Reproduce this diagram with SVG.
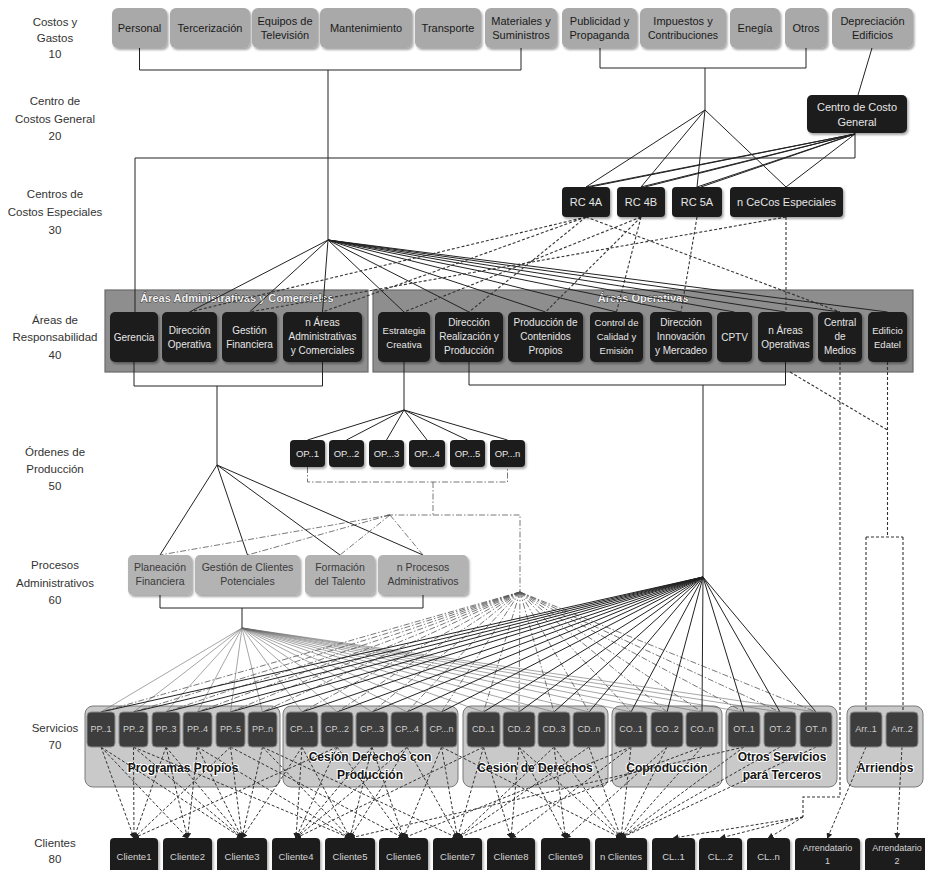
<svg xmlns="http://www.w3.org/2000/svg" width="925" height="870" viewBox="0 0 925 870">
<defs>
<filter id="sh" x="-15%" y="-15%" width="140%" height="150%"><feDropShadow dx="1.5" dy="2" stdDeviation="1.2" flood-color="#000" flood-opacity="0.35"/></filter>
<marker id="ah" markerUnits="userSpaceOnUse" markerWidth="6" markerHeight="6" refX="5" refY="3" orient="auto"><path d="M0,0 L6,3 L0,6 z" fill="#222"/></marker>
<style>
text{font-family:"Liberation Sans",Arial,sans-serif;text-anchor:middle}
.lbl{font-size:11.5px;fill:#333}
.tg rect{fill:#a9a9a9;filter:url(#sh)}
.tg text{font-size:11px;fill:#1a1a1a}
.bk rect{fill:#1c1c1c;filter:url(#sh)}
.bk text{font-size:10px;fill:#e6e6e6}
.pr rect{fill:#b3b3b3;filter:url(#sh)}
.pr text{font-size:10.5px;fill:#3a3a3a}
.sv rect{fill:#3d3d3d;stroke:#8a8a8a;stroke-width:1}
.sv text{font-size:9px;fill:#d0d0d0}
.cl rect{fill:#1e1e1e;filter:url(#sh)}
.cl text{font-size:9.5px;fill:#d4d4d4}
.panel{fill:#8e8e8e;stroke:#6a6a6a;stroke-width:1.2}
.ptitle{font-size:11px;font-weight:bold;fill:#f2f2f2;stroke:#333;stroke-width:0.8;paint-order:stroke}
.gpanel{fill:#c9c9c9;stroke:#7a7a7a;stroke-width:1}
.gtitle{font-size:12px;font-weight:bold;fill:#111;stroke:#fff;stroke-width:2.2;paint-order:stroke}
.s{fill:none;stroke:#222;stroke-width:1}
.t{fill:none;stroke:#6a6a6a;stroke-width:0.6}
.d{fill:none;stroke:#333;stroke-width:1.1;stroke-dasharray:3 2}
.dd{fill:none;stroke:#555;stroke-width:0.8;stroke-dasharray:6 2 1.5 2}
.dc{fill:none;stroke:#333;stroke-width:1;stroke-dasharray:3 2}
</style>
</defs>
<rect width="925" height="870" fill="#fff"/>

<g id="levels">
<text class="lbl" x="55" y="26">Costos y</text><text class="lbl" x="55" y="42">Gastos</text><text class="lbl" x="55" y="58">10</text>
<text class="lbl" x="55" y="105">Centro de</text><text class="lbl" x="55" y="123">Costos General</text><text class="lbl" x="55" y="140">20</text>
<text class="lbl" x="55" y="198">Centros de</text><text class="lbl" x="55" y="216">Costos Especiales</text><text class="lbl" x="55" y="234">30</text>
<text class="lbl" x="55" y="324">Áreas de</text><text class="lbl" x="55" y="341">Responsabilidad</text><text class="lbl" x="55" y="359">40</text>
<text class="lbl" x="55" y="456">Órdenes de</text><text class="lbl" x="55" y="473">Producción</text><text class="lbl" x="55" y="490">50</text>
<text class="lbl" x="55" y="569">Procesos</text><text class="lbl" x="55" y="587">Administrativos</text><text class="lbl" x="55" y="604">60</text>
<text class="lbl" x="55" y="732">Servicios</text><text class="lbl" x="55" y="749">70</text>
<text class="lbl" x="55" y="847">Clientes</text><text class="lbl" x="55" y="863">80</text>
</g>

<g id="panel-adm"><rect class="panel" x="105" y="290" width="263" height="82"/><text class="ptitle" x="237" y="302">Áreas Administrativas y Comerciales</text></g>
<g id="panel-op"><rect class="panel" x="373" y="290" width="540" height="82"/><text class="ptitle" x="643" y="302">Áreas Operativas</text></g>
<g id="grp-pp"><rect class="gpanel" x="85" y="706" width="195" height="81" rx="8"/><text class="gtitle" x="183" y="772">Programas Propios</text></g>
<g id="grp-cp"><rect class="gpanel" x="283" y="706" width="175" height="81" rx="8"/><text class="gtitle" x="370" y="761">Cesión Derechos con</text><text class="gtitle" x="370" y="779">Producción</text></g>
<g id="grp-cd"><rect class="gpanel" x="463" y="706" width="145" height="81" rx="8"/><text class="gtitle" x="535" y="772">Cesión de Derechos</text></g>
<g id="grp-co"><rect class="gpanel" x="612" y="706" width="110" height="81" rx="8"/><text class="gtitle" x="667" y="772">Coproducción</text></g>
<g id="grp-ot"><rect class="gpanel" x="726" y="706" width="111" height="81" rx="8"/><text class="gtitle" x="782" y="761">Otros Servicios</text><text class="gtitle" x="782" y="779">para Terceros</text></g>
<g id="grp-arr"><rect class="gpanel" x="847" y="706" width="76" height="81" rx="8"/><text class="gtitle" x="885" y="772">Arriendos</text></g>

<g id="connectors">
<path class="s" d="M139.5,48V70H521V48M328,70V240"/>
<path class="s" d="M600,48V68H806V48M705,68V110"/>
<path class="s" d="M872,48L858,95"/>
<path class="s" d="M855,133V158H135V312"/>
<path class="s" d="M705,110L586,187M705,110L641,187M705,110L697,187M705,110L786,187"/>
<path class="s" d="M855,134L586,187M855,134L590,187M855,134L641,187M855,134L645,187M855,134L697,187M855,134L701,187M855,134L786,187"/>
<path class="s" d="M328,240L189.5,312M328,240L249.5,312M328,240L322.5,312M328,240L404,312M328,240L469,312M328,240L545.5,312M328,240L616.5,312M328,240L681,312M328,240L734.5,312M328,240L785.5,312M328,240L840,312M328,240L887.5,312"/>
<path class="d" d="M586,217L189.5,312M586,217L322.5,312M641,217L404,312M786,217L249.5,312M586,217L469,312M641,217L545.5,312M641,217L616.5,312M697,217L681,312M586,217L840,312M786,217V312"/>
<path class="s" d="M134,362V386H322.5V362M217,386V465"/>
<path class="s" d="M404,362V410"/>
<path class="s" d="M469,362V385H785.5V362M703,385V577"/>
<path class="s" d="M217,465L160,555M217,465L247.5,555M217,465L340,555M217,465L423,555"/>
<path class="s" d="M404,410L307.5,440M404,410L346.5,440M404,410L386.5,440M404,410L427,440M404,410L467.5,440M404,410L507.5,440"/>
<path class="dd" d="M307.5,467V482H507.5V467M433,482V515M387,515H520V592"/>
<path class="dd" d="M390,515L160,555M390,515L247.5,555M390,515L340,555M390,515L423,555"/>
<path class="s" d="M160,595V608H423V595M242,608V628"/>
<path class="t" d="M242,628L101,712M242,628L133.5,712M242,628L166,712M242,628L197.5,712M242,628L230.5,712M242,628L262.5,712M242,628L302,712M242,628L337,712M242,628L372,712M242,628L407,712M242,628L441.5,712M242,628L483.5,712M242,628L519,712M242,628L554,712M242,628L589,712M242,628L631,712M242,628L667,712M242,628L702,712M242,628L744,712M242,628L780,712M242,628L816,712"/>
<path class="dd" d="M520,592L101,712M520,592L133.5,712M520,592L166,712M520,592L197.5,712M520,592L230.5,712M520,592L262.5,712M520,592L302,712M520,592L337,712M520,592L372,712M520,592L407,712M520,592L441.5,712M520,592L483.5,712M520,592L519,712M520,592L554,712M520,592L589,712M520,592L631,712M520,592L667,712M520,592L702,712M520,592L744,712M520,592L780,712M520,592L816,712"/>
<path class="s" d="M703,577L101,712M703,577L133.5,712M703,577L166,712M703,577L197.5,712M703,577L230.5,712M703,577L262.5,712M703,577L302,712M703,577L337,712M703,577L372,712M703,577L407,712M703,577L441.5,712M703,577L483.5,712M703,577L519,712M703,577L554,712M703,577L589,712M703,577L631,712M703,577L667,712M703,577L702,712M703,577L744,712M703,577L780,712M703,577L816,712"/>
<path class="d" d="M790,372L887.5,430M887.5,362V537M866,537H903M866,537V712M903,537V712"/>
<path class="d" d="M840,362V797H803V817"/>
<g class="dc" marker-end="url(#ah)">
<line x1="803" y1="817" x2="673.5" y2="838"/><line x1="803" y1="817" x2="720.5" y2="838"/><line x1="803" y1="817" x2="768.5" y2="838"/>
<line x1="866" y1="747" x2="827.5" y2="838"/><line x1="902" y1="747" x2="897" y2="838"/>
<line x1="101" y1="747" x2="134" y2="838"/><line x1="101" y1="747" x2="187.5" y2="838"/><line x1="101" y1="747" x2="242" y2="838"/>
<line x1="133.5" y1="747" x2="134" y2="838"/><line x1="133.5" y1="747" x2="242" y2="838"/><line x1="133.5" y1="747" x2="350" y2="838"/>
<line x1="166" y1="747" x2="134" y2="838"/><line x1="166" y1="747" x2="187.5" y2="838"/><line x1="166" y1="747" x2="242" y2="838"/>
<line x1="197.5" y1="747" x2="187.5" y2="838"/><line x1="197.5" y1="747" x2="242" y2="838"/><line x1="197.5" y1="747" x2="350" y2="838"/>
<line x1="230.5" y1="747" x2="134" y2="838"/><line x1="230.5" y1="747" x2="242" y2="838"/><line x1="230.5" y1="747" x2="403.5" y2="838"/>
<line x1="262.5" y1="747" x2="242" y2="838"/><line x1="262.5" y1="747" x2="350" y2="838"/><line x1="262.5" y1="747" x2="457.5" y2="838"/>
<line x1="302" y1="747" x2="242" y2="838"/><line x1="302" y1="747" x2="296" y2="838"/><line x1="302" y1="747" x2="350" y2="838"/>
<line x1="337" y1="747" x2="134" y2="838"/><line x1="337" y1="747" x2="296" y2="838"/><line x1="337" y1="747" x2="403.5" y2="838"/>
<line x1="372" y1="747" x2="296" y2="838"/><line x1="372" y1="747" x2="350" y2="838"/><line x1="372" y1="747" x2="403.5" y2="838"/>
<line x1="407" y1="747" x2="296" y2="838"/><line x1="407" y1="747" x2="350" y2="838"/><line x1="407" y1="747" x2="457.5" y2="838"/>
<line x1="441.5" y1="747" x2="403.5" y2="838"/><line x1="441.5" y1="747" x2="457.5" y2="838"/><line x1="441.5" y1="747" x2="621" y2="838"/>
<line x1="483.5" y1="747" x2="296" y2="838"/><line x1="483.5" y1="747" x2="457.5" y2="838"/><line x1="483.5" y1="747" x2="511" y2="838"/>
<line x1="519" y1="747" x2="511" y2="838"/><line x1="519" y1="747" x2="565.5" y2="838"/><line x1="519" y1="747" x2="621" y2="838"/>
<line x1="554" y1="747" x2="457.5" y2="838"/><line x1="554" y1="747" x2="565.5" y2="838"/><line x1="554" y1="747" x2="621" y2="838"/>
<line x1="589" y1="747" x2="457.5" y2="838"/><line x1="589" y1="747" x2="621" y2="838"/>
<line x1="631" y1="747" x2="403.5" y2="838"/><line x1="631" y1="747" x2="511" y2="838"/><line x1="631" y1="747" x2="621" y2="838"/>
<line x1="667" y1="747" x2="565.5" y2="838"/><line x1="667" y1="747" x2="621" y2="838"/>
<line x1="702" y1="747" x2="457.5" y2="838"/><line x1="702" y1="747" x2="621" y2="838"/>
<line x1="744" y1="747" x2="350" y2="838"/><line x1="744" y1="747" x2="621" y2="838"/>
<line x1="780" y1="747" x2="621" y2="838"/>
<line x1="816" y1="747" x2="621" y2="838"/>
</g>
</g>

<g id="personal" class="tg"><rect x="112" y="8" width="55" height="40" rx="6"/><text x="139.5" y="32">Personal</text></g>
<g id="tercerizacion" class="tg"><rect x="170" y="8" width="80" height="40" rx="6"/><text x="210" y="32">Tercerización</text></g>
<g id="equipos" class="tg"><rect x="252" y="8" width="66" height="40" rx="6"/><text x="285" y="25">Equipos de</text><text x="285" y="39">Televisión</text></g>
<g id="mantenimiento" class="tg"><rect x="320" y="8" width="92" height="40" rx="6"/><text x="366" y="32">Mantenimiento</text></g>
<g id="transporte" class="tg"><rect x="415" y="8" width="66" height="40" rx="6"/><text x="448" y="32">Transporte</text></g>
<g id="materiales" class="tg"><rect x="485" y="8" width="72" height="40" rx="6"/><text x="521" y="25">Materiales y</text><text x="521" y="39">Suministros</text></g>
<g id="publicidad" class="tg"><rect x="562" y="8" width="75" height="40" rx="6"/><text x="599.5" y="25">Publicidad y</text><text x="599.5" y="39">Propaganda</text></g>
<g id="impuestos" class="tg"><rect x="640" y="8" width="86" height="40" rx="6"/><text x="683" y="25">Impuestos y</text><text x="683" y="39" style="font-size:10.5px">Contribuciones</text></g>
<g id="enegia" class="tg"><rect x="730" y="8" width="50" height="40" rx="6"/><text x="755" y="32">Enegía</text></g>
<g id="otros" class="tg"><rect x="785" y="8" width="42" height="40" rx="6"/><text x="806" y="32">Otros</text></g>
<g id="depreciacion" class="tg"><rect x="832" y="8" width="81" height="40" rx="6"/><text x="872.5" y="25">Depreciación</text><text x="872.5" y="39">Edificios</text></g>

<g id="ccgeneral" class="bk"><rect x="807" y="95" width="100" height="38" rx="5"/><text x="857" y="111" style="font-size:11px">Centro de Costo</text><text x="857" y="126" style="font-size:11px">General</text></g>
<g id="rc4a" class="bk"><rect x="562" y="187" width="48" height="30" rx="4"/><text x="586" y="206" style="font-size:11px">RC 4A</text></g>
<g id="rc4b" class="bk"><rect x="617" y="187" width="48" height="30" rx="4"/><text x="641" y="206" style="font-size:11px">RC 4B</text></g>
<g id="rc5a" class="bk"><rect x="672" y="187" width="50" height="30" rx="4"/><text x="697" y="206" style="font-size:11px">RC 5A</text></g>
<g id="ncecos" class="bk"><rect x="730" y="187" width="113" height="30" rx="4"/><text x="786.5" y="206" style="font-size:11px">n CeCos Especiales</text></g>

<g id="gerencia" class="bk"><rect x="110" y="312" width="48" height="50" rx="5"/><text x="134" y="341">Gerencia</text></g>
<g id="dir-operativa" class="bk"><rect x="162" y="312" width="55" height="50" rx="5"/><text x="189.5" y="334">Dirección</text><text x="189.5" y="348">Operativa</text></g>
<g id="gestion-fin" class="bk"><rect x="222" y="312" width="55" height="50" rx="5"/><text x="249.5" y="334">Gestión</text><text x="249.5" y="348">Financiera</text></g>
<g id="n-areas-adm" class="bk"><rect x="283" y="312" width="79" height="50" rx="5"/><text x="322.5" y="326">n Áreas</text><text x="322.5" y="340">Administrativas</text><text x="322.5" y="354">y Comerciales</text></g>
<g id="estrategia" class="bk"><rect x="378" y="312" width="52" height="50" rx="5"/><text x="404" y="334" style="font-size:9.5px">Estrategia</text><text x="404" y="348" style="font-size:9.5px">Creativa</text></g>
<g id="dir-realizacion" class="bk"><rect x="435" y="312" width="68" height="50" rx="5"/><text x="469" y="326">Dirección</text><text x="469" y="340">Realización y</text><text x="469" y="354">Producción</text></g>
<g id="prod-contenidos" class="bk"><rect x="508" y="312" width="75" height="50" rx="5"/><text x="545.5" y="326">Producción de</text><text x="545.5" y="340">Contenidos</text><text x="545.5" y="354">Propios</text></g>
<g id="control-calidad" class="bk"><rect x="590" y="312" width="53" height="50" rx="5"/><text x="616.5" y="326" style="font-size:9.5px">Control de</text><text x="616.5" y="340" style="font-size:9.5px">Calidad y</text><text x="616.5" y="354" style="font-size:9.5px">Emisión</text></g>
<g id="dir-innovacion" class="bk"><rect x="650" y="312" width="62" height="50" rx="5"/><text x="681" y="326">Dirección</text><text x="681" y="340">Innovación</text><text x="681" y="354">y Mercadeo</text></g>
<g id="cptv" class="bk"><rect x="717" y="312" width="35" height="50" rx="5"/><text x="734.5" y="341">CPTV</text></g>
<g id="n-areas-op" class="bk"><rect x="758" y="312" width="55" height="50" rx="5"/><text x="785.5" y="334">n Áreas</text><text x="785.5" y="348">Operativas</text></g>
<g id="central-medios" class="bk"><rect x="818" y="312" width="44" height="50" rx="5"/><text x="840" y="326">Central</text><text x="840" y="340">de</text><text x="840" y="354">Medios</text></g>
<g id="edificio-edatel" class="bk"><rect x="868" y="312" width="39" height="50" rx="5"/><text x="887.5" y="334" style="font-size:9.5px">Edificio</text><text x="887.5" y="348" style="font-size:9.5px">Edatel</text></g>

<g id="op1" class="bk"><rect x="290" y="440" width="35" height="27" rx="4"/><text x="307.5" y="457" style="font-size:9.5px">OP..1</text></g>
<g id="op2" class="bk"><rect x="329" y="440" width="35" height="27" rx="4"/><text x="346.5" y="457" style="font-size:9.5px">OP...2</text></g>
<g id="op3" class="bk"><rect x="369" y="440" width="35" height="27" rx="4"/><text x="386.5" y="457" style="font-size:9.5px">OP...3</text></g>
<g id="op4" class="bk"><rect x="409" y="440" width="36" height="27" rx="4"/><text x="427" y="457" style="font-size:9.5px">OP...4</text></g>
<g id="op5" class="bk"><rect x="450" y="440" width="35" height="27" rx="4"/><text x="467.5" y="457" style="font-size:9.5px">OP...5</text></g>
<g id="opn" class="bk"><rect x="490" y="440" width="35" height="27" rx="4"/><text x="507.5" y="457" style="font-size:9.5px">OP...n</text></g>

<g id="planeacion" class="pr"><rect x="128" y="555" width="64" height="40" rx="5"/><text x="160" y="571">Planeación</text><text x="160" y="585">Financiera</text></g>
<g id="gestion-clientes" class="pr"><rect x="195" y="555" width="105" height="40" rx="5"/><text x="247.5" y="571">Gestión de Clientes</text><text x="247.5" y="585">Potenciales</text></g>
<g id="formacion" class="pr"><rect x="305" y="555" width="70" height="40" rx="5"/><text x="340" y="571">Formación</text><text x="340" y="585">del Talento</text></g>
<g id="n-procesos" class="pr"><rect x="378" y="555" width="90" height="40" rx="5"/><text x="423" y="571">n Procesos</text><text x="423" y="585">Administrativos</text></g>

<g id="pp1" class="sv"><rect x="87" y="712" width="28" height="35" rx="4"/><text x="101" y="732">PP..1</text></g>
<g id="pp2" class="sv"><rect x="119" y="712" width="29" height="35" rx="4"/><text x="133.5" y="732">PP..2</text></g>
<g id="pp3" class="sv"><rect x="152" y="712" width="28" height="35" rx="4"/><text x="166" y="732">PP..3</text></g>
<g id="pp4" class="sv"><rect x="183" y="712" width="29" height="35" rx="4"/><text x="197.5" y="732">PP..4</text></g>
<g id="pp5" class="sv"><rect x="216" y="712" width="29" height="35" rx="4"/><text x="230.5" y="732">PP..5</text></g>
<g id="ppn" class="sv"><rect x="248" y="712" width="29" height="35" rx="4"/><text x="262.5" y="732">PP..n</text></g>
<g id="cp1" class="sv"><rect x="286" y="712" width="32" height="35" rx="4"/><text x="302" y="732">CP...1</text></g>
<g id="cp2" class="sv"><rect x="321" y="712" width="32" height="35" rx="4"/><text x="337" y="732">CP...2</text></g>
<g id="cp3" class="sv"><rect x="356" y="712" width="32" height="35" rx="4"/><text x="372" y="732">CP...3</text></g>
<g id="cp4" class="sv"><rect x="391" y="712" width="32" height="35" rx="4"/><text x="407" y="732">CP...4</text></g>
<g id="cpn" class="sv"><rect x="426" y="712" width="31" height="35" rx="4"/><text x="441.5" y="732">CP...n</text></g>
<g id="cd1" class="sv"><rect x="467" y="712" width="33" height="35" rx="4"/><text x="483.5" y="732">CD..1</text></g>
<g id="cd2" class="sv"><rect x="503" y="712" width="32" height="35" rx="4"/><text x="519" y="732">CD..2</text></g>
<g id="cd3" class="sv"><rect x="538" y="712" width="32" height="35" rx="4"/><text x="554" y="732">CD..3</text></g>
<g id="cdn" class="sv"><rect x="573" y="712" width="32" height="35" rx="4"/><text x="589" y="732">CD..n</text></g>
<g id="co1" class="sv"><rect x="615" y="712" width="32" height="35" rx="4"/><text x="631" y="732">CO..1</text></g>
<g id="co2" class="sv"><rect x="651" y="712" width="32" height="35" rx="4"/><text x="667" y="732">CO..2</text></g>
<g id="con" class="sv"><rect x="686" y="712" width="32" height="35" rx="4"/><text x="702" y="732">CO..n</text></g>
<g id="ot1" class="sv"><rect x="728" y="712" width="32" height="35" rx="4"/><text x="744" y="732">OT..1</text></g>
<g id="ot2" class="sv"><rect x="764" y="712" width="32" height="35" rx="4"/><text x="780" y="732">OT..2</text></g>
<g id="otn" class="sv"><rect x="800" y="712" width="32" height="35" rx="4"/><text x="816" y="732">OT..n</text></g>
<g id="arr1" class="sv"><rect x="850" y="712" width="32" height="35" rx="4"/><text x="866" y="732">Arr..1</text></g>
<g id="arr2" class="sv"><rect x="886" y="712" width="32" height="35" rx="4"/><text x="902" y="732">Arr..2</text></g>

<g id="cliente1" class="cl"><rect x="110" y="838" width="48" height="36" rx="4"/><text x="134" y="860">Cliente1</text></g>
<g id="cliente2" class="cl"><rect x="163" y="838" width="49" height="36" rx="4"/><text x="187.5" y="860">Cliente2</text></g>
<g id="cliente3" class="cl"><rect x="217" y="838" width="50" height="36" rx="4"/><text x="242" y="860">Cliente3</text></g>
<g id="cliente4" class="cl"><rect x="272" y="838" width="48" height="36" rx="4"/><text x="296" y="860">Cliente4</text></g>
<g id="cliente5" class="cl"><rect x="325" y="838" width="50" height="36" rx="4"/><text x="350" y="860">Cliente5</text></g>
<g id="cliente6" class="cl"><rect x="379" y="838" width="49" height="36" rx="4"/><text x="403.5" y="860">Cliente6</text></g>
<g id="cliente7" class="cl"><rect x="433" y="838" width="49" height="36" rx="4"/><text x="457.5" y="860">Cliente7</text></g>
<g id="cliente8" class="cl"><rect x="487" y="838" width="48" height="36" rx="4"/><text x="511" y="860">Cliente8</text></g>
<g id="cliente9" class="cl"><rect x="541" y="838" width="49" height="36" rx="4"/><text x="565.5" y="860">Cliente9</text></g>
<g id="nclientes" class="cl"><rect x="595" y="838" width="52" height="36" rx="4"/><text x="621" y="860">n Clientes</text></g>
<g id="cl1" class="cl"><rect x="652" y="838" width="43" height="36" rx="4"/><text x="673.5" y="860">CL..1</text></g>
<g id="cl2" class="cl"><rect x="699" y="838" width="43" height="36" rx="4"/><text x="720.5" y="860">CL...2</text></g>
<g id="cln" class="cl"><rect x="747" y="838" width="43" height="36" rx="4"/><text x="768.5" y="860">CL..n</text></g>
<g id="arrendatario1" class="cl"><rect x="795" y="838" width="65" height="36" rx="4"/><text x="827.5" y="851" style="font-size:9px">Arrendatario</text><text x="827.5" y="864" style="font-size:9px">1</text></g>
<g id="arrendatario2" class="cl"><rect x="865" y="838" width="65" height="36" rx="4"/><text x="897" y="851" style="font-size:9px">Arrendatario</text><text x="897" y="864" style="font-size:9px">2</text></g>
</svg>
